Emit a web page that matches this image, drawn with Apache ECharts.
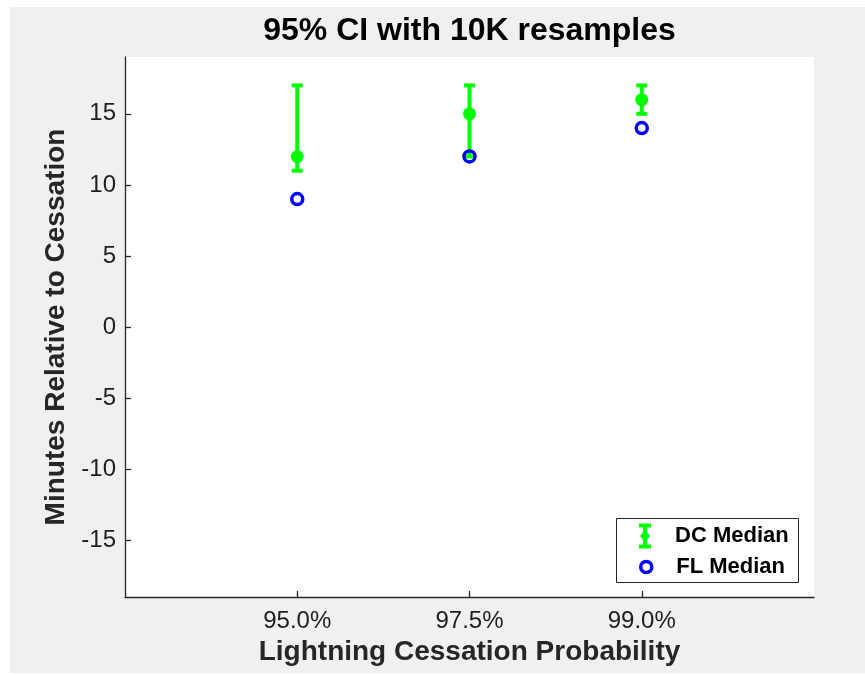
<!DOCTYPE html>
<html>
<head>
<meta charset="utf-8">
<script src="https://cdn.jsdelivr.net/npm/echarts@6/dist/echarts.min.js"></script>
<style>
html,body{margin:0;padding:0;background:#fff;}
#chart{width:865px;height:675px;}
</style>
</head>
<body>
<div id="chart"></div>
<script>
// ---- data ----
const categories = ['95.0%', '97.5%', '99.0%'];
const dcMedian = [12, 15, 16];
const dcLower = [11, 12, 15];
const dcUpper = [17, 17, 17];
const flMedian = [9, 12, 14];
const yTicks = [-15, -10, -5, 0, 5, 10, 15];
const titleText = '95% CI with 10K resamples';
const xName = 'Lightning Cessation Probability';
const yName = 'Minutes Relative to Cessation';
const seriesNames = ['DC Median', 'FL Median'];

// ---- build ----
const xPos = categories.map((c, i) => i + 1);
const errData = categories.map((c, i) => [xPos[i], dcLower[i], dcUpper[i]]);
const dcData = categories.map((c, i) => [xPos[i], dcMedian[i]]);
const flData = categories.map((c, i) => [xPos[i], flMedian[i]]);

const FONT = '"Liberation Sans", Arial, Helvetica, sans-serif';
const GREEN = '#00ff00';
const BLUE = '#0000ff';
const AXIS = '#262626';

const chart = echarts.init(document.getElementById('chart'), null, {renderer: 'canvas'});
const option = {
  backgroundColor: '#ffffff',
  animation: false,
  textStyle: {fontFamily: FONT},
  title: {
    text: titleText,
    left: 469.5,
    textAlign: 'center',
    top: 15,
    padding: 0,
    textStyle: {fontFamily: FONT, fontSize: 32, fontWeight: 'bold', color: '#000'}
  },
  graphic: [
    {type: 'rect', z: -10, silent: true, shape: {x: 10, y: 7, width: 855, height: 666}, style: {fill: '#f0f0f0'}},
    {type: 'rect', z: 3, silent: true, shape: {x: 616.5, y: 518.5, width: 182, height: 64}, style: {fill: '#ffffff', stroke: AXIS, lineWidth: 1}}
  ],
  legend: [
    {
      z: 5,
      left: 639, top: 523.5, padding: 0,
      itemWidth: 50, itemHeight: 25, itemGap: 0,
      selectedMode: false,
      textStyle: {fontFamily: FONT, fontSize: 22, fontWeight: 'bold', color: '#000'},
      data: [{
        name: seriesNames[0],
        icon: 'path://M0,0H12V4H8V21H12V25H0V21H4V4H0Z M6,6L11,12.5L6,19L1,12.5Z',
        itemStyle: {color: GREEN, borderWidth: 0}
      }]
    },
    {
      z: 5,
      left: 639, top: 556, padding: 0,
      itemWidth: 50, itemHeight: 11, itemGap: 0,
      selectedMode: false,
      textStyle: {fontFamily: FONT, fontSize: 22, fontWeight: 'bold', color: '#000'},
      data: [{
        name: seriesNames[1],
        icon: 'circle',
        itemStyle: {color: 'rgba(0,0,0,0)', borderColor: BLUE, borderWidth: 3.5}
      }]
    }
  ],
  grid: {
    left: 125, right: 51, top: 57, bottom: 78,
    show: true, backgroundColor: '#ffffff', borderWidth: 0,
    containLabel: false
  },
  xAxis: {
    type: 'value', min: 0, max: 4,
    name: xName, nameLocation: 'middle', nameGap: 39,
    nameTextStyle: {fontFamily: FONT, fontSize: 28, fontWeight: 'bold', color: AXIS},
    axisLine: {show: true, onZero: false, lineStyle: {color: AXIS, width: 1.3}},
    axisTick: {show: true, inside: true, length: 6, customValues: xPos, lineStyle: {color: AXIS, width: 1.3}},
    axisLabel: {
      show: true, margin: 12, customValues: xPos,
      fontFamily: FONT, fontSize: 24, color: '#1e1e1e',
      formatter: v => categories[Math.round(v) - 1] || ''
    },
    splitLine: {show: false}
  },
  yAxis: {
    type: 'value', min: -19, max: 19,
    name: yName, nameLocation: 'middle', nameGap: 53, nameRotate: 90,
    nameTextStyle: {fontFamily: FONT, fontSize: 28, fontWeight: 'bold', color: AXIS},
    axisLine: {show: true, onZero: false, lineStyle: {color: AXIS, width: 1.3}},
    axisTick: {show: true, inside: true, length: 6, customValues: yTicks, lineStyle: {color: AXIS, width: 1.3}},
    axisLabel: {show: true, margin: 9, customValues: yTicks, fontFamily: FONT, fontSize: 24, color: '#1e1e1e'},
    splitLine: {show: false}
  },
  series: [
    {
      type: 'custom',
      name: 'DC CI',
      z: 2,
      data: errData,
      encode: {x: 0, y: [1, 2]},
      renderItem: function (params, api) {
        const x = api.value(0);
        const lo = api.coord([x, api.value(1)]);
        const hi = api.coord([x, api.value(2)]);
        const half = 5.5;
        const st = {stroke: GREEN, lineWidth: 4, fill: null};
        return {
          type: 'group',
          children: [
            {type: 'line', shape: {x1: lo[0], y1: lo[1], x2: hi[0], y2: hi[1]}, style: st},
            {type: 'line', shape: {x1: lo[0] - half, y1: lo[1], x2: lo[0] + half, y2: lo[1]}, style: st},
            {type: 'line', shape: {x1: hi[0] - half, y1: hi[1], x2: hi[0] + half, y2: hi[1]}, style: st}
          ]
        };
      }
    },
    {
      type: 'scatter',
      name: seriesNames[0],
      z: 3,
      symbol: 'circle',
      symbolSize: 13,
      itemStyle: {color: GREEN, opacity: 1},
      data: dcData
    },
    {
      type: 'scatter',
      name: seriesNames[1],
      z: 4,
      symbol: 'circle',
      symbolSize: 11,
      itemStyle: {color: 'rgba(0,0,0,0)', borderColor: BLUE, borderWidth: 3.5, opacity: 1},
      data: flData
    }
  ]
};
chart.setOption(option);
</script>
</body>
</html>
